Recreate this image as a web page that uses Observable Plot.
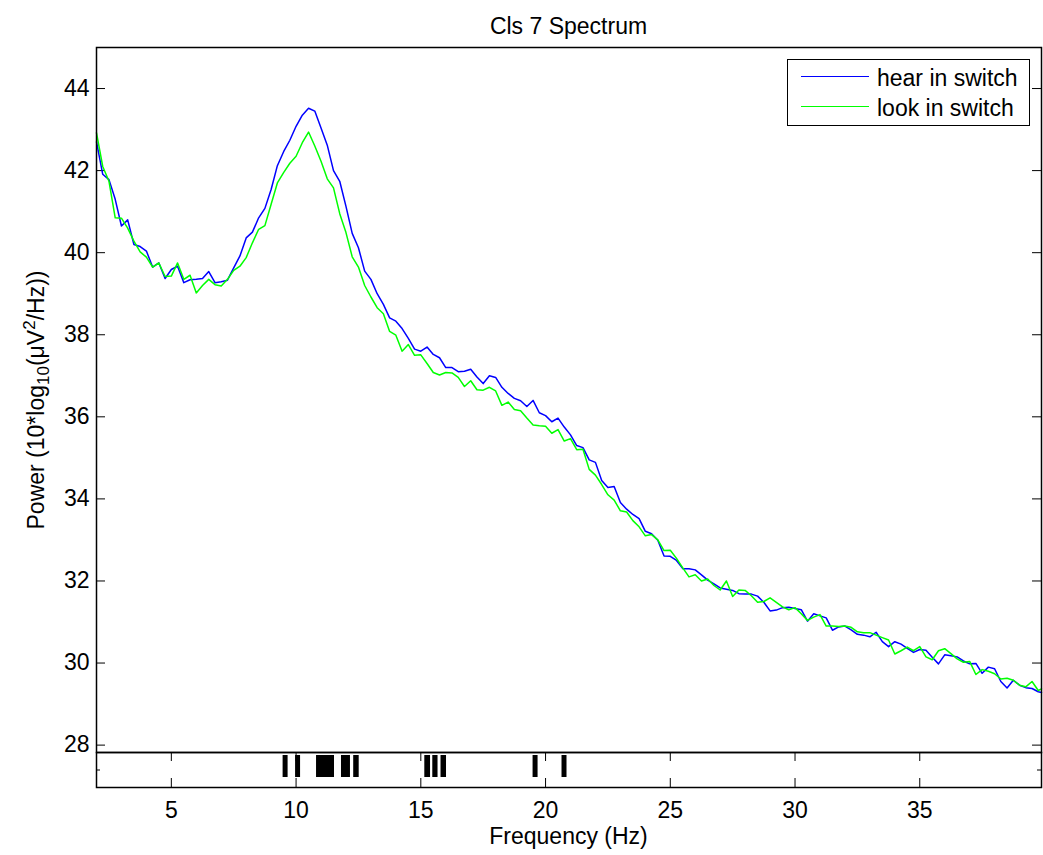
<!DOCTYPE html>
<html>
<head>
<meta charset="utf-8">
<script src="https://cdn.jsdelivr.net/npm/d3@7"></script>
<script src="https://cdn.jsdelivr.net/npm/@observablehq/plot@0.6"></script>
<style>
  body { margin: 0; background: #fff; }
  #wrap { position: relative; width: 1043px; height: 855px; overflow: hidden;
          font-family: "Liberation Sans", Arial, Helvetica, sans-serif; color: #000; }
  #wrap svg { position: absolute; left: 0; }
  .txt { position: absolute; font-size: 23px; line-height: 23px; white-space: nowrap; }
  .center { transform: translateX(-50%); }
  #ylabel { position: absolute; font-size: 23px; line-height: 23px; white-space: nowrap;
            transform: translate(-50%, -50%) rotate(-90deg); }
  #ylabel sub, #ylabel sup { font-size: 17px; line-height: 0; }
  #legend { position: absolute; border: 1.5px solid #000; background: #fff; box-sizing: border-box; }
  .legline { position: absolute; height: 0; border-top: 1.3px solid; }
</style>
</head>
<body>
<div id="wrap"></div>
<script>
// ---- data ----
const freqs = [
  2, 2.25, 2.5, 2.75, 3, 3.25, 3.5, 3.75, 4, 4.25, 4.5, 4.75, 5, 5.25, 5.5, 5.75,
  6, 6.25, 6.5, 6.75, 7, 7.25, 7.5, 7.75, 8, 8.25, 8.5, 8.75, 9, 9.25, 9.5, 9.75,
  10, 10.25, 10.5, 10.75, 11, 11.25, 11.5, 11.75, 12, 12.25, 12.5, 12.75, 13, 13.25, 13.5, 13.75,
  14, 14.25, 14.5, 14.75, 15, 15.25, 15.5, 15.75, 16, 16.25, 16.5, 16.75, 17, 17.25, 17.5, 17.75,
  18, 18.25, 18.5, 18.75, 19, 19.25, 19.5, 19.75, 20, 20.25, 20.5, 20.75, 21, 21.25, 21.5, 21.75,
  22, 22.25, 22.5, 22.75, 23, 23.25, 23.5, 23.75, 24, 24.25, 24.5, 24.75, 25, 25.25, 25.5, 25.75,
  26, 26.25, 26.5, 26.75, 27, 27.25, 27.5, 27.75, 28, 28.25, 28.5, 28.75, 29, 29.25, 29.5, 29.75,
  30, 30.25, 30.5, 30.75, 31, 31.25, 31.5, 31.75, 32, 32.25, 32.5, 32.75, 33, 33.25, 33.5, 33.75,
  34, 34.25, 34.5, 34.75, 35, 35.25, 35.5, 35.75, 36, 36.25, 36.5, 36.75, 37, 37.25, 37.5, 37.75,
  38, 38.25, 38.5, 38.75, 39, 39.25, 39.5, 39.75, 39.88
];
const hearPower = [
  42.7, 41.91, 41.78, 41.3, 40.65, 40.8, 40.2, 40.15, 40.04, 39.65, 39.75, 39.37, 39.59, 39.67, 39.27, 39.34,
  39.35, 39.37, 39.54, 39.27, 39.29, 39.33, 39.63, 39.92, 40.36, 40.5, 40.85, 41.08, 41.54, 42.12, 42.46, 42.74,
  43.08, 43.35, 43.52, 43.45, 43.04, 42.62, 42.0, 41.74, 41.13, 40.47, 40.12, 39.55, 39.35, 39.0, 38.74, 38.41,
  38.33, 38.15, 37.91, 37.65, 37.6, 37.7, 37.52, 37.44, 37.2, 37.2, 37.1, 37.11, 37.16, 36.97, 36.81, 37.0,
  36.96, 36.72, 36.57, 36.45, 36.39, 36.25, 36.4, 36.1, 36.03, 35.88, 35.97, 35.75, 35.56, 35.3, 35.25, 34.95,
  34.89, 34.45, 34.28, 34.3, 33.91, 33.75, 33.62, 33.52, 33.21, 33.15, 32.99, 32.61, 32.6, 32.5, 32.3, 32.3,
  32.27, 32.15, 32.02, 31.93, 31.83, 31.8, 31.77, 31.69, 31.68, 31.68, 31.63, 31.48, 31.27, 31.29, 31.35, 31.36,
  31.33, 31.3, 31.02, 31.2, 31.15, 31.1, 30.8, 30.88, 30.9, 30.81, 30.7, 30.68, 30.64, 30.75, 30.52, 30.4,
  30.52, 30.46, 30.36, 30.26, 30.33, 30.31, 30.14, 29.98, 30.2, 30.18, 30.15, 30.05, 29.98, 29.99, 29.75, 29.9,
  29.86, 29.55, 29.39, 29.58, 29.46, 29.4, 29.38, 29.3, 29.28
];
const lookPower = [
  42.92, 42.1, 41.74, 40.85, 40.84, 40.6, 40.28, 40.02, 39.89, 39.65, 39.75, 39.42, 39.43, 39.75, 39.35, 39.45,
  39.02, 39.2, 39.35, 39.22, 39.19, 39.35, 39.57, 39.67, 39.88, 40.24, 40.57, 40.66, 41.18, 41.7, 41.95, 42.18,
  42.35, 42.68, 42.94, 42.6, 42.23, 41.8, 41.58, 40.95, 40.49, 39.9, 39.65, 39.2, 38.92, 38.66, 38.51, 38.08,
  37.99, 37.6, 37.76, 37.5, 37.51, 37.3, 37.08, 37.02, 37.08, 37.07, 36.96, 36.74, 36.88, 36.66, 36.65, 36.72,
  36.63, 36.28, 36.36, 36.18, 36.15, 35.97, 35.8, 35.78, 35.77, 35.6, 35.69, 35.41, 35.47, 35.2, 35.21, 34.72,
  34.58, 34.35, 34.1, 33.97, 33.71, 33.68, 33.47, 33.32, 33.1, 33.13, 33.0, 32.74, 32.75, 32.55, 32.32, 32.1,
  32.15, 32.0, 32.05, 31.89, 31.78, 32.0, 31.62, 31.78, 31.77, 31.64, 31.48, 31.5, 31.59, 31.48, 31.37, 31.3,
  31.35, 31.2, 31.04, 31.12, 31.18, 30.9, 30.9, 30.89, 30.9, 30.87, 30.76, 30.74, 30.74, 30.68, 30.62, 30.56,
  30.22, 30.3, 30.39, 30.3, 30.4, 30.15, 30.08, 30.3, 30.35, 30.23, 30.1, 30.02, 30.04, 29.72, 29.84, 29.8,
  29.74, 29.61, 29.63, 29.58, 29.46, 29.42, 29.55, 29.33, 29.37
];
const sigStart = [9.48, 9.98, 10.82, 11.82, 12.31, 15.16, 15.48, 15.81, 19.5, 20.66];
const sigEnd   = [9.68, 10.18, 11.54, 12.18, 12.53, 15.39, 15.69, 16.03, 19.7, 20.86];
const xTicks = [5, 10, 15, 20, 25, 30, 35];
const yTicks = [28, 30, 32, 34, 36, 38, 40, 42, 44];
const seriesNames = ["hear in switch", "look in switch"];
const seriesColors = ["#0000ff", "#00ff00"];
const titleText = "Cls 7 Spectrum";
const xLabelText = "Frequency (Hz)";

// ---- tables built from the arrays ----
const rows = freqs.map((f, i) => ({f, hear: hearPower[i], look: lookPower[i]}));
const sigRows = sigStart.map((a, i) => ({a, b: sigEnd[i]}));

const W = 1043;
const FONT = '"Liberation Sans", Arial, Helvetica, sans-serif';
const wrap = document.getElementById("wrap");

// main spectrum panel
const mainPlot = Plot.plot({
  width: W, height: 752,
  marginLeft: 96, marginRight: 2, marginTop: 47, marginBottom: 0,
  x: {domain: [2, 39.88], axis: null, label: null},
  y: {domain: [27.82, 45], axis: null, label: null},
  style: {fontFamily: FONT, fontSize: "23px", overflow: "visible", background: "transparent", color: "#000"},
  marks: [
    Plot.axisY(yTicks, {anchor: "left", tickSize: 0, tickPadding: 7, label: null, fontSize: 23}),
    Plot.tickY(yTicks, {stroke: "#000", strokeWidth: 1, insetRight: 936}),
    Plot.tickY(yTicks, {stroke: "#000", strokeWidth: 1, insetLeft: 936}),
    Plot.line(rows, {x: "f", y: "hear", stroke: seriesColors[0], strokeWidth: 1.5}),
    Plot.line(rows, {x: "f", y: "look", stroke: seriesColors[1], strokeWidth: 1.5}),
    Plot.frame({stroke: "#000", strokeWidth: 1.5})
  ]
});
mainPlot.style.top = "0px";
wrap.appendChild(mainPlot);

// significance strip
const sigPlot = Plot.plot({
  width: W, height: 103,
  marginLeft: 96, marginRight: 2, marginTop: 0, marginBottom: 68,
  x: {domain: [2, 39.88], axis: null, label: null},
  y: {domain: [0, 1], axis: null, label: null},
  style: {fontFamily: FONT, fontSize: "23px", overflow: "visible", background: "transparent", color: "#000"},
  marks: [
    Plot.rect(sigRows, {x1: "a", x2: "b", fill: "#000", insetTop: 3, insetBottom: 10}),
    Plot.tickX(xTicks, {stroke: "#000", strokeWidth: 1, insetBottom: 26}),
    Plot.tickX(xTicks, {stroke: "#000", strokeWidth: 1, insetTop: 26}),
    Plot.tickY([0.5], {stroke: "#000", strokeWidth: 1, insetRight: 941}),
    Plot.tickY([0.5], {stroke: "#000", strokeWidth: 1, insetLeft: 941}),
    Plot.axisX(xTicks, {anchor: "bottom", tickSize: 0, tickPadding: 14, label: null, fontSize: 23}),
    Plot.frame({stroke: "#000", strokeWidth: 1.5})
  ]
});
sigPlot.style.top = "752px";
wrap.appendChild(sigPlot);

// title
const title = document.createElement("div");
title.className = "txt center";
title.style.left = "568.5px"; title.style.top = "15px";
title.textContent = titleText;
wrap.appendChild(title);

// x label
const xl = document.createElement("div");
xl.className = "txt center";
xl.style.left = "568.5px"; xl.style.top = "825px";
xl.textContent = xLabelText;
wrap.appendChild(xl);

// y label
const yl = document.createElement("div");
yl.id = "ylabel";
yl.style.left = "36px"; yl.style.top = "399.5px";
yl.innerHTML = "Power (10*log<sub>10</sub>(\u03bcV<sup>2</sup>/Hz))";
wrap.appendChild(yl);

// legend
const leg = document.createElement("div");
leg.id = "legend";
leg.style.left = "787px"; leg.style.top = "59px";
leg.style.width = "243px"; leg.style.height = "67px";
wrap.appendChild(leg);
seriesNames.forEach((name, i) => {
  const ln = document.createElement("div");
  ln.className = "legline";
  ln.style.left = "801px"; ln.style.width = "68px";
  ln.style.top = (76 + i * 30) + "px";
  ln.style.borderTopColor = seriesColors[i];
  wrap.appendChild(ln);
  const t = document.createElement("div");
  t.className = "txt";
  t.style.left = "877px"; t.style.top = (67 + i * 30) + "px";
  t.textContent = name;
  wrap.appendChild(t);
});
</script>
</body>
</html>
